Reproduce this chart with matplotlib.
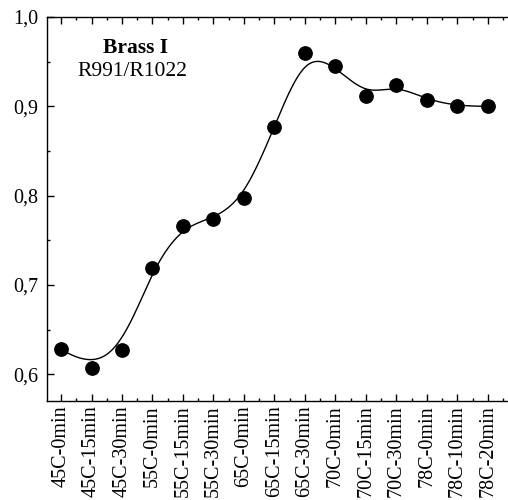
import numpy as np
import matplotlib
matplotlib.use('Agg')
import matplotlib.pyplot as plt
from matplotlib.ticker import MultipleLocator, FixedLocator

# annealing steps and measured intensity ratio
steps = ['45C-0min', '45C-15min', '45C-30min', '55C-0min', '55C-15min',
         '55C-30min', '65C-0min', '65C-15min', '65C-30min', '70C-0min',
         '70C-15min', '70C-30min', '78C-0min', '78C-10min', '78C-20min']
ratio = [0.628, 0.607, 0.627, 0.719, 0.766, 0.774, 0.797, 0.877,
         0.960, 0.945, 0.912, 0.924, 0.907, 0.900, 0.900]


def bspline(px, py, n=600, k=3):
    # clamped uniform B-spline using the data points as control points
    px = np.asarray(px, float)
    py = np.asarray(py, float)
    m = len(px)
    inner = np.linspace(0, 1, m - k + 1)
    knots = np.concatenate([np.zeros(k), inner, np.ones(k)])
    t = np.linspace(0, 1, n)
    t[-1] -= 1e-10

    def basis(i, d, t):
        if d == 0:
            return ((knots[i] <= t) & (t < knots[i + 1])).astype(float)
        out = np.zeros_like(t)
        den1 = knots[i + d] - knots[i]
        den2 = knots[i + d + 1] - knots[i + 1]
        if den1 > 0:
            out += (t - knots[i]) / den1 * basis(i, d - 1, t)
        if den2 > 0:
            out += (knots[i + d + 1] - t) / den2 * basis(i + 1, d - 1, t)
        return out

    B = np.array([basis(i, k, t) for i in range(m)])
    return B.T @ px, B.T @ py


plt.rcParams['font.family'] = ['Liberation Serif', 'DejaVu Serif']

fig = plt.figure(figsize=(5.08, 5.0), dpi=100)
ax = fig.add_axes([0.0925, 0.198, 0.9075, 0.768])

x = np.arange(len(steps))
sx, sy = bspline(x, ratio)
ax.plot(sx, sy, color='black', lw=1.0, zorder=2)
ax.plot(x, ratio, 'o', color='black', ms=9.6, zorder=3)

ax.set_xlim(-0.46, 14.66)
ax.set_ylim(0.57, 1.0)

ax.yaxis.set_major_locator(MultipleLocator(0.1))
ax.yaxis.set_minor_locator(MultipleLocator(0.05))
ax.yaxis.set_major_formatter(plt.FuncFormatter(lambda v, p: f'{v:.1f}'.replace('.', ',')))
ax.xaxis.set_major_locator(FixedLocator(x))
ax.xaxis.set_minor_locator(FixedLocator(x + 0.5))
ax.set_xticklabels(steps, rotation=90)

ax.spines['right'].set_visible(False)
for s in ['left', 'top', 'bottom']:
    ax.spines[s].set_linewidth(1.0)

ax.tick_params(which='both', direction='in', top=True, right=False,
               labelsize=14.5, width=1.0)
ax.tick_params(which='major', length=5)
ax.tick_params(which='minor', length=2.5)
ax.tick_params(axis='y', pad=6)
ax.tick_params(axis='x', pad=3)

ax.text(0.193, 0.918, 'Brass I', transform=ax.transAxes, ha='center',
        va='center', fontsize=15.5, fontweight='bold')
ax.text(0.186, 0.857, 'R991/R1022', transform=ax.transAxes, ha='center',
        va='center', fontsize=15.5)

fig.savefig('out.png', dpi=100)
